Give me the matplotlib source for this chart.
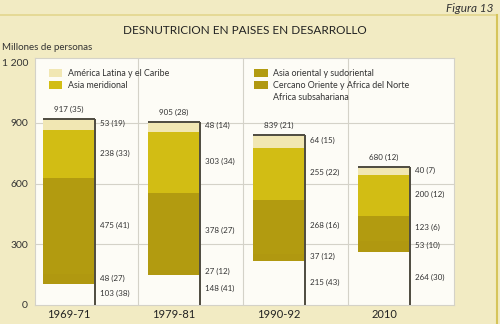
import matplotlib
matplotlib.use("Agg")
import matplotlib.pyplot as plt
from matplotlib.patches import Patch
import numpy as np

plt.rcParams['font.family'] = ['Lato', 'DejaVu Sans']

periods = ["1969-71", "1979-81", "1990-92", "2010"]
series_names = ["Africa subsahariana", "Cercano Oriente y Africa del Norte",
                "Asia oriental y sudoriental", "Asia meridional",
                "América Latina y el Caribe"]
africa_sub = [103, 148, 215, 264]
cercano = [48, 27, 37, 53]
asia_or = [475, 378, 268, 123]
asia_mer = [238, 303, 255, 200]
latam = [53, 48, 64, 40]
pct_africa_sub = [38, 41, 43, 30]
pct_cercano = [27, 12, 12, 10]
pct_asia_or = [41, 27, 16, 6]
pct_asia_mer = [33, 34, 22, 12]
pct_latam = [19, 14, 15, 7]
totals = [917, 905, 839, 680]
pct_totals = [35, 28, 21, 12]
yticks = [0, 300, 600, 900, 1200]
ytick_labels = ["0", "300", "600", "900", "1 200"]

colors = ["#fdfcf6", "#b09810", "#b29b10", "#d2bd14", "#f1e7b3"]
series = [africa_sub, cercano, asia_or, asia_mer, latam]
pcts = [pct_africa_sub, pct_cercano, pct_asia_or, pct_asia_mer, pct_latam]

W, H = 500, 324
fig = plt.figure(figsize=(W / 100, H / 100), dpi=100)
fig.patch.set_facecolor("#f2ebc3")

# outer frame lines
fig.add_artist(plt.Line2D([0, 497 / W], [1 - 15 / H, 1 - 15 / H], color="#e3d68e", lw=1.2))
fig.add_artist(plt.Line2D([497 / W, 497 / W], [0, 1 - 15 / H], color="#d6c45a", lw=1.5))

left, right, top, bottom = 35, 454, 58, 305
ax = fig.add_axes([left / W, 1 - bottom / H, (right - left) / W, (bottom - top) / H])
ax.set_facecolor("#fdfcf6")
ax.set_ylim(0, 1220)
ax.set_xlim(-0.325, 3.665)

x = np.arange(len(periods))
bw = 0.495
base = np.zeros(len(periods))
for vals, col in zip(series, colors):
    ax.bar(x, vals, bottom=base, width=bw, color=col, edgecolor="none", zorder=2)
    base = base + np.array(vals)

# grid
for yv in yticks[1:4]:
    ax.axhline(yv, color="#d4d2c8", lw=0.8, zorder=1)
for xv in x[:3] + 0.657:
    ax.axvline(xv, color="#d4d2c8", lw=0.8, zorder=1)
for s in ax.spines.values():
    s.set_color("#d4d2c8")
    s.set_linewidth(0.8)

# bar outlines (top and right)
for xi, t in zip(x, totals):
    ax.plot([xi - bw / 2, xi + bw / 2], [t, t], color="#4e4b40", lw=1.4, zorder=3,
            solid_capstyle="butt")
    ax.plot([xi + bw / 2, xi + bw / 2], [0, t], color="#4e4b40", lw=1.4, zorder=3,
            solid_capstyle="butt")

# labels
fs = 5.8
for i in range(len(periods)):
    b = 0
    for vals, pc in zip(series, pcts):
        mid = b + vals[i] / 2
        ax.text(x[i] + bw / 2 + 0.05, mid + 6, f"{vals[i]} ({pc[i]})", fontsize=fs,
                va="center", ha="left", color="#333333", zorder=4)
        b += vals[i]
    ax.text(x[i], totals[i] + 30, f"{totals[i]} ({pct_totals[i]})", fontsize=fs,
            va="bottom", ha="center", color="#333333", zorder=4)

ax.set_yticks(yticks)
ax.set_yticklabels(ytick_labels, fontsize=7.5, color="#333333")
ax.set_xticks(x)
ax.set_xticklabels(periods, fontsize=8, color="#222222")
ax.tick_params(length=0)
ax.tick_params(axis="y", pad=5)
ax.tick_params(axis="x", pad=3)

# legends
h1 = [Patch(facecolor=colors[4], edgecolor="none", label=series_names[4]),
      Patch(facecolor=colors[3], edgecolor="none", label=series_names[3])]
h2 = [Patch(facecolor=colors[2], edgecolor="none", label=series_names[2]),
      Patch(facecolor=colors[1], edgecolor="none", label=series_names[1]),
      Patch(facecolor="none", edgecolor="none", label=series_names[0])]
lkw = dict(loc="upper left", frameon=False, fontsize=6.4, handlelength=1.5,
           handleheight=1.0, labelspacing=0.35, handletextpad=0.6, borderaxespad=0)
leg1 = ax.legend(handles=h1, bbox_to_anchor=(0.025, 0.97), **lkw)
for t in leg1.get_texts():
    t.set_color("#333333")
ax.add_artist(leg1)
leg2 = ax.legend(handles=h2, bbox_to_anchor=(0.515, 0.97), **lkw)
for t in leg2.get_texts():
    t.set_color("#333333")

fig.text(245 / W, 1 - 30 / H, "DESNUTRICION EN PAISES EN DESARROLLO", fontsize=8.5,
         ha="center", va="center", color="#222222")
fig.text(494 / W, 1 - 9 / H, "Figura 13", fontsize=8.5, style="italic",
         ha="right", va="center", color="#333333")
fig.text(2 / W, 1 - 47 / H, "Millones de personas", fontsize=7, ha="left",
         va="center", color="#333333")

fig.savefig("out.png", dpi=100, facecolor=fig.get_facecolor())
